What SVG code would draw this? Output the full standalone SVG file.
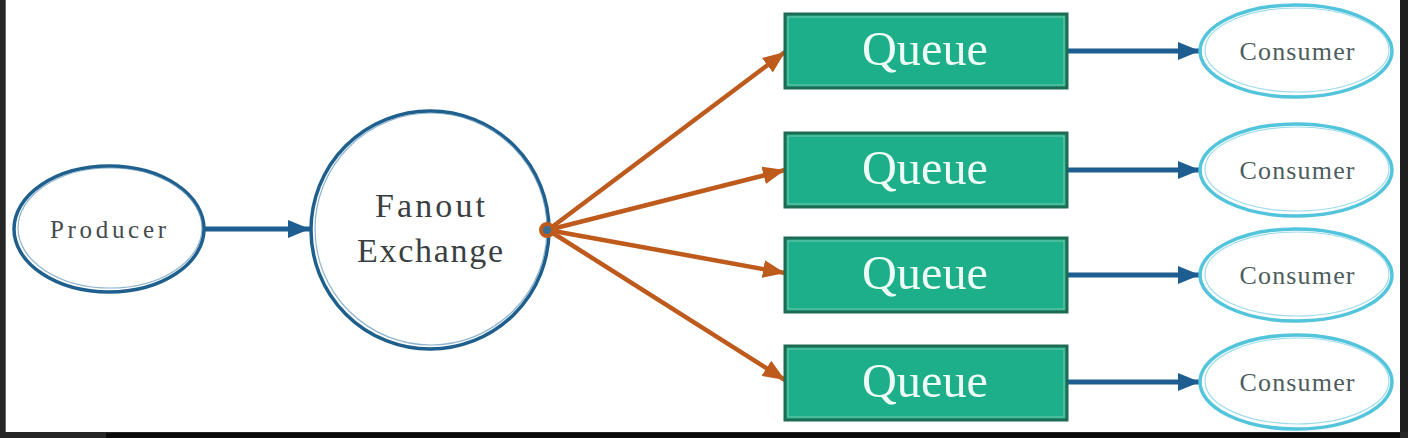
<svg xmlns="http://www.w3.org/2000/svg" width="1408" height="438" viewBox="0 0 1408 438">
  <defs>
    <style>
      .txt { font-family: "Liberation Serif", "DejaVu Serif", serif; }
      .prod { fill: none; stroke: #1e5f8e; stroke-width: 3.5; }
      .prod2 { fill: none; stroke: #5e93b8; stroke-width: 1.2; opacity: 0.7; }
      .cons { fill: #ffffff; stroke: #52c4dc; stroke-width: 3.5; }
      .cons2 { fill: none; stroke: #9fdceb; stroke-width: 1.2; }
      .queue { fill: #1caf8a; stroke: #1e6a52; stroke-width: 3; }
      .queue2 { fill: none; stroke: #8fcfbb; stroke-width: 1; opacity: 0.8; }
      .qtext { fill: #eefcf6; font-size: 48px; }
      .ctext { fill: #4d5c5c; font-size: 26px; }
      .ptext { fill: #454b4f; font-size: 25px; }
      .ftext { fill: #3a3f42; font-size: 34px; }
      .blue { stroke: #1e5d90; stroke-width: 5; fill: none; }
      .orange { stroke: #bd5a1c; stroke-width: 4.5; fill: none; }
    </style>
    <marker id="ab" markerUnits="userSpaceOnUse" markerWidth="24" markerHeight="22" refX="22" refY="11" orient="auto">
      <path d="M0,2 L22,11 L0,20 Z" fill="#1e5d90"/>
    </marker>
    <marker id="ao" markerUnits="userSpaceOnUse" markerWidth="24" markerHeight="22" refX="22" refY="11" orient="auto">
      <path d="M0,2 L22,11 L0,20 Z" fill="#bd5a1c"/>
    </marker>
  </defs>

  <rect x="0" y="0" width="1408" height="438" fill="#ffffff"/>
  <!-- dark frame -->
  <rect x="0" y="0" width="5" height="438" fill="#262626"/>
  <rect x="5" y="0" width="1" height="432" fill="#6a6a6a"/>
  <rect x="1400" y="0" width="8" height="438" fill="#1f1f1f"/>
  <rect x="0" y="432" width="1408" height="6" fill="#262626"/>
  <rect x="106" y="433" width="1294" height="5" fill="#0a0a0a"/>

  <g id="connectors">
    <line class="blue" x1="205" y1="229" x2="310" y2="229" marker-end="url(#ab)"/>
    <line class="orange" x1="548" y1="230" x2="785" y2="52" marker-end="url(#ao)"/>
    <line class="orange" x1="548" y1="230" x2="785" y2="170" marker-end="url(#ao)"/>
    <line class="orange" x1="548" y1="230" x2="785" y2="273" marker-end="url(#ao)"/>
    <line class="orange" x1="548" y1="230" x2="785" y2="380" marker-end="url(#ao)"/>
    <line class="blue" x1="1067" y1="51" x2="1200" y2="51" marker-end="url(#ab)"/>
    <line class="blue" x1="1067" y1="170" x2="1200" y2="170" marker-end="url(#ab)"/>
    <line class="blue" x1="1067" y1="275" x2="1200" y2="275" marker-end="url(#ab)"/>
    <line class="blue" x1="1067" y1="382" x2="1200" y2="382" marker-end="url(#ab)"/>
  </g>

  <g id="producer">
    <ellipse class="prod" cx="109" cy="229" rx="95" ry="63"/>
    <ellipse class="prod2" cx="110" cy="228" rx="92" ry="60"/>
    <text class="txt ptext" x="108" y="238" text-anchor="middle" textLength="116" lengthAdjust="spacing">Producer</text>
  </g>

  <g id="fanout-exchange">
    <circle class="prod" cx="430" cy="230" r="119"/>
    <circle class="prod2" cx="431" cy="229" r="116"/>
    <text class="txt ftext" x="430" y="217" text-anchor="middle" textLength="110" lengthAdjust="spacing">Fanout</text>
    <text class="txt ftext" x="430" y="262" text-anchor="middle" textLength="146" lengthAdjust="spacing">Exchange</text>
    <circle cx="547" cy="230" r="6" fill="#3a6f95" stroke="#bd5a1c" stroke-width="4"/>
  </g>

  <g id="queue1">
    <rect class="queue" x="785" y="14" width="282" height="74"/>
    <rect class="queue2" x="788" y="17" width="276" height="68"/>
    <text class="txt qtext" x="925" y="65" text-anchor="middle" textLength="126" lengthAdjust="spacingAndGlyphs">Queue</text>
  </g>
  <g id="queue2">
    <rect class="queue" x="785" y="133" width="282" height="74"/>
    <rect class="queue2" x="788" y="136" width="276" height="68"/>
    <text class="txt qtext" x="925" y="184" text-anchor="middle" textLength="126" lengthAdjust="spacingAndGlyphs">Queue</text>
  </g>
  <g id="queue3">
    <rect class="queue" x="785" y="238" width="282" height="74"/>
    <rect class="queue2" x="788" y="241" width="276" height="68"/>
    <text class="txt qtext" x="925" y="289" text-anchor="middle" textLength="126" lengthAdjust="spacingAndGlyphs">Queue</text>
  </g>
  <g id="queue4">
    <rect class="queue" x="785" y="346" width="282" height="74"/>
    <rect class="queue2" x="788" y="349" width="276" height="68"/>
    <text class="txt qtext" x="925" y="397" text-anchor="middle" textLength="126" lengthAdjust="spacingAndGlyphs">Queue</text>
  </g>

  <g id="consumer1">
    <ellipse class="cons" cx="1296" cy="51" rx="96" ry="46"/>
    <ellipse class="cons2" cx="1297" cy="50" rx="92" ry="42"/>
    <text class="txt ctext" x="1297" y="60" text-anchor="middle" textLength="115" lengthAdjust="spacing">Consumer</text>
  </g>
  <g id="consumer2">
    <ellipse class="cons" cx="1296" cy="170" rx="96" ry="46"/>
    <ellipse class="cons2" cx="1297" cy="169" rx="92" ry="42"/>
    <text class="txt ctext" x="1297" y="179" text-anchor="middle" textLength="115" lengthAdjust="spacing">Consumer</text>
  </g>
  <g id="consumer3">
    <ellipse class="cons" cx="1296" cy="275" rx="96" ry="46"/>
    <ellipse class="cons2" cx="1297" cy="274" rx="92" ry="42"/>
    <text class="txt ctext" x="1297" y="284" text-anchor="middle" textLength="115" lengthAdjust="spacing">Consumer</text>
  </g>
  <g id="consumer4">
    <ellipse class="cons" cx="1296" cy="382" rx="96" ry="47"/>
    <ellipse class="cons2" cx="1297" cy="381" rx="92" ry="43"/>
    <text class="txt ctext" x="1297" y="391" text-anchor="middle" textLength="115" lengthAdjust="spacing">Consumer</text>
  </g>
</svg>
